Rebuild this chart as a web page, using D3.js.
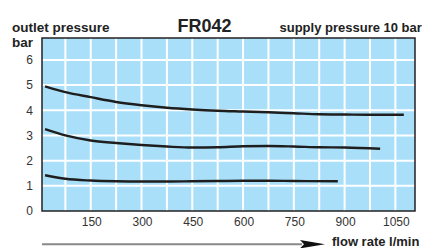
<!DOCTYPE html>
<html><head><meta charset="utf-8">
<script src="https://cdn.jsdelivr.net/npm/d3@7"></script>
<style>html,body{margin:0;padding:0;background:#fff;}svg{display:block;}</style>
</head><body>
<svg id="c" width="422" height="248"></svg>
<script>
const title = "FR042";
const yTitle1 = "outlet pressure";
const yTitle2 = "bar";
const subTitle = "supply pressure 10 bar";
const xTitle = "flow rate l/min";
const xTicks = [150, 300, 450, 600, 750, 900, 1050];
const xGrid = [75, 150, 225, 300, 375, 450, 525, 600, 675, 750, 825, 900, 975, 1050];
const yTicks = [0, 1, 2, 3, 4, 5, 6];

const flow1 = [15, 75, 150, 225, 300, 375, 450, 525, 600, 675, 750, 825, 900, 975, 1075];
const pres1 = [4.95, 4.72, 4.52, 4.33, 4.2, 4.1, 4.03, 3.98, 3.95, 3.92, 3.88, 3.84, 3.83, 3.82, 3.82];
const flow2 = [15, 75, 150, 225, 300, 375, 450, 525, 600, 675, 750, 825, 900, 1005];
const pres2 = [3.25, 3.0, 2.8, 2.7, 2.62, 2.56, 2.52, 2.53, 2.57, 2.58, 2.56, 2.53, 2.52, 2.47];
const flow3 = [15, 75, 150, 225, 300, 375, 450, 525, 600, 675, 750, 880];
const pres3 = [1.42, 1.28, 1.21, 1.18, 1.17, 1.17, 1.18, 1.19, 1.2, 1.2, 1.19, 1.18];

const svg = d3.select("#c");
const L = 42, R = 415, T = 38, B = 211;
const x = d3.scaleLinear().domain([6, 1108]).range([L, R]);
const y = d3.scaleLinear().domain([0, 6.87]).range([B, T]);
const font = "'Liberation Sans', Arial, Helvetica, sans-serif";

svg.append("rect").attr("x", L).attr("y", T).attr("width", R - L).attr("height", B - T)
  .attr("fill", "#aadff9");

const g = svg.append("g");
g.selectAll(".vg").data(xGrid).join("line")
  .attr("x1", d => x(d)).attr("x2", d => x(d)).attr("y1", T).attr("y2", B)
  .attr("stroke", "#fff").attr("stroke-width", 2);
g.selectAll(".hg").data(yTicks.filter(d => d > 0)).join("line")
  .attr("x1", L).attr("x2", R).attr("y1", d => y(d)).attr("y2", d => y(d))
  .attr("stroke", "#fff").attr("stroke-width", 2);

svg.append("rect").attr("x", L).attr("y", T).attr("width", R - L).attr("height", B - T)
  .attr("fill", "none").attr("stroke", "#222").attr("stroke-width", 1.5);

const line = d3.line().x(d => x(d[0])).y(d => y(d[1])).curve(d3.curveMonotoneX);
[[flow1, pres1], [flow2, pres2], [flow3, pres3]].forEach(([f, p]) => {
  svg.append("path").datum(f.map((v, i) => [v, p[i]]))
    .attr("d", line).attr("fill", "none").attr("stroke", "#1e1e1e")
    .attr("stroke-width", 2.4).attr("stroke-linecap", "butt");
});

svg.selectAll(".yl").data(yTicks).join("text")
  .attr("x", 33).attr("y", d => y(d)).attr("dy", "0.36em").attr("text-anchor", "end")
  .attr("font-family", font).attr("font-size", 12).attr("fill", "#333").text(d => d);
svg.selectAll(".xl").data(xTicks).join("text")
  .attr("x", d => x(d) + 1).attr("y", 226).attr("text-anchor", "middle")
  .attr("font-family", font).attr("font-size", 12).attr("fill", "#333").text(d => d);

svg.append("text").attr("x", 204.5).attr("y", 31.5).attr("text-anchor", "middle")
  .attr("font-family", font).attr("font-size", 18).attr("font-weight", "bold").attr("fill", "#222").text(title);
svg.append("text").attr("x", 12).attr("y", 32).attr("font-family", font).attr("font-size", 13.5)
  .attr("font-weight", "bold").attr("fill", "#222").text(yTitle1);
svg.append("text").attr("x", 12).attr("y", 46.5).attr("font-family", font).attr("font-size", 13.5)
  .attr("font-weight", "bold").attr("fill", "#222").text(yTitle2);
svg.append("text").attr("x", 279.5).attr("y", 32.3).attr("font-family", font).attr("font-size", 13)
  .attr("font-weight", "bold").attr("fill", "#222").text(subTitle);

svg.append("line").attr("x1", L).attr("x2", 302).attr("y1", 244.2).attr("y2", 244.2)
  .attr("stroke", "#888").attr("stroke-width", 2);
svg.append("path").attr("d", `M300,240 L325,244.2 L300,248.4 L304,244.2 Z`).attr("fill", "#111");
svg.append("text").attr("x", 332).attr("y", 245.8).attr("font-family", font).attr("font-size", 13)
  .attr("font-weight", "bold").attr("fill", "#222").text(xTitle);
</script>
</body></html>
